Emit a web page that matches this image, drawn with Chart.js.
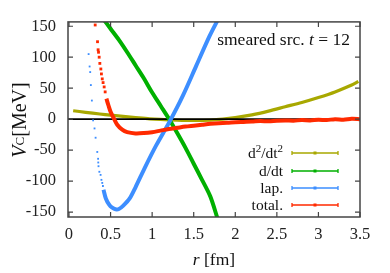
<!DOCTYPE html>
<html><head><meta charset="utf-8">
<script src="https://cdn.jsdelivr.net/npm/chart.js@4"></script>
<style>html,body{margin:0;padding:0;background:#fff}#wrap{width:390px;height:273px;position:relative}</style>
</head><body><div id="wrap"><canvas id="c" width="390" height="273"></canvas></div>
<script>
// ---- data ----
const xTicks = [0, 0.5, 1, 1.5, 2, 2.5, 3, 3.5];
const yTicks = [-150, -100, -50, 0, 50, 100, 150];
const seriesNames = [["d","2","/dt","2"], ["d/dt"], ["lap."], ["total."]];
const seriesColors = ["#a8a800", "#00b000", "#3d8eff", "#ff2a00"];

const d2dt2 = [[0.05,13.6],[0.2,11],[0.37,8.3],[0.5,6.5],[0.68,4],[0.8,2.5],[0.97,0.5],[1.1,-0.5],[1.3,-1.5],[1.5,-2],[1.7,-1.5],[1.85,0],[2.0,2.5],[2.2,7],[2.4,13],[2.6,20],[2.8,27],[3.0,35],[3.2,44],[3.4,55],[3.48,61]];
const ddt = [[0.40,164],[0.5,146],[0.6,128],[0.7,108],[0.8,87],[0.9,66],[1.0,43],[1.1,22],[1.2,1],[1.3,-22],[1.4,-46],[1.5,-72],[1.6,-98],[1.7,-125],[1.79,-162]];
const lapLine = [[0.415,-114],[0.443,-128],[0.483,-138],[0.52,-143],[0.56,-145.5],[0.6,-145],[0.65,-140],[0.73,-128],[0.8,-110],[0.91,-79],[1.05,-42],[1.21,-4],[1.37,38],[1.53,86],[1.69,134],[1.80,163]];
const lapDots = [[0.236,105],[0.248,85],[0.255,76],[0.263,55],[0.275,30],[0.29,-2],[0.307,-15],[0.32,-30],[0.34,-53],[0.35,-64],[0.352,-70],[0.355,-76],[0.365,-85],[0.38,-90],[0.39,-98],[0.40,-103],[0.408,-108]];
const totalLine = [[0.45,33],[0.475,22],[0.5,12],[0.54,1],[0.58,-9],[0.64,-17],[0.7,-21],[0.8,-23],[0.9,-22.5],[1.0,-21],[1.1,-18.5],[1.2,-16],[1.3,-14],[1.4,-12],[1.5,-10.5],[1.6,-9],[1.7,-7.5],[1.8,-6.5],[1.9,-6],[2.0,-5],[2.1,-4.5],[2.2,-4],[2.3,-3],[2.4,-3.5],[2.5,-2.5],[2.6,-2],[2.7,-2.5],[2.8,-1.5],[2.9,-2],[3.0,-1],[3.1,-1.5],[3.2,0],[3.3,-1],[3.4,0.5],[3.5,0]];
const totalDots = [[0.315,152],[0.343,125],[0.35,112],[0.355,108],[0.363,100],[0.371,90],[0.383,81],[0.39,73],[0.40,65],[0.41,59],[0.423,52],[0.435,44]];

const toXY = a => a.map(p => ({x:p[0], y:p[1]}));
const SERIF = "'Liberation Serif','DejaVu Serif',serif";

function lineDs(data, color, w, order){
  return {data: toXY(data), showLine:true, borderColor:color, backgroundColor:color,
    borderWidth:w, pointRadius:0, tension:0.3, order:order};
}
function dotDs(data, color, r, order){
  return {data: toXY(data), showLine:false, borderColor:color, backgroundColor:color,
    pointStyle:'rect', pointRadius:r, borderWidth:0, order:order};
}
function drawParts(ctx, parts, x, y){
  let cx = x;
  parts.forEach(p => { ctx.font = p[1]; ctx.fillText(p[0], cx, y + (p[2] || 0)); cx += ctx.measureText(p[0]).width; });
}
function partsWidth(ctx, parts){
  let w = 0; parts.forEach(p => { ctx.font = p[1]; w += ctx.measureText(p[0]).width; }); return w;
}

const deco = {
  id:'deco',
  afterDatasetDraw(chart, args){
    if(args.index !== 0) return;
    const {ctx, chartArea:a, scales:{y}} = chart;
    const py = y.getPixelForValue(0);
    ctx.save();
    ctx.strokeStyle = '#000'; ctx.lineWidth = 1.6;
    ctx.beginPath(); ctx.moveTo(a.left, py); ctx.lineTo(a.right, py); ctx.stroke();
    ctx.restore();
  },
  afterDraw(chart){
    const {ctx, chartArea:a, scales:{x, y}} = chart;
    ctx.save();
    // frame
    ctx.strokeStyle = '#444'; ctx.lineWidth = 1.5;
    ctx.strokeRect(a.left, a.top, a.right - a.left, a.bottom - a.top);
    // inward ticks
    ctx.lineWidth = 1.2;
    const tl = 5;
    ctx.beginPath();
    xTicks.forEach(v => {
      const px = x.getPixelForValue(v);
      ctx.moveTo(px, a.bottom); ctx.lineTo(px, a.bottom - tl);
      ctx.moveTo(px, a.top); ctx.lineTo(px, a.top + tl);
    });
    yTicks.forEach(v => {
      const py = y.getPixelForValue(v);
      ctx.moveTo(a.left, py); ctx.lineTo(a.left + tl, py);
      ctx.moveTo(a.right, py); ctx.lineTo(a.right - tl, py);
    });
    ctx.stroke();

    ctx.fillStyle = '#111';
    ctx.textBaseline = 'alphabetic';
    ctx.textAlign = 'left';
    // annotation
    {
      const f1 = "17.5px " + SERIF, fi = "italic 17.5px " + SERIF;
      const parts = [["smeared src. ", f1], ["t", fi], [" = 12", f1]];
      drawParts(ctx, parts, 350 - partsWidth(ctx, parts), 45);
    }
    // x title
    {
      const parts = [["r", "italic 17.5px " + SERIF], [" [fm]", "17.5px " + SERIF]];
      drawParts(ctx, parts, (a.left + a.right) / 2 - partsWidth(ctx, parts) / 2, 265);
    }
    // y title
    {
      const parts = [["V", "italic 20px " + SERIF, 0], ["C", "13px " + SERIF, -2], ["[MeV]", "20px " + SERIF, 0]];
      const w = partsWidth(ctx, parts);
      ctx.translate(26, 120);
      ctx.rotate(-Math.PI / 2);
      drawParts(ctx, parts, -w / 2, 0);
      ctx.setTransform(1, 0, 0, 1, 0, 0);
    }
    // legend
    const rows = [153, 171, 188, 205];
    seriesNames.forEach((n, i) => {
      const yy = rows[i];
      ctx.fillStyle = '#111';
      const parts = n.length > 1
        ? [[n[0], "15.5px " + SERIF], [n[1], "11px " + SERIF, -6], [n[2], "15.5px " + SERIF], [n[3], "11px " + SERIF, -6]]
        : [[n[0], "15.5px " + SERIF]];
      drawParts(ctx, parts, 283 - partsWidth(ctx, parts), yy + 5);
      ctx.strokeStyle = seriesColors[i]; ctx.fillStyle = seriesColors[i];
      ctx.lineWidth = 1.3;
      ctx.beginPath();
      ctx.moveTo(292, yy); ctx.lineTo(338, yy);
      ctx.moveTo(292, yy - 2); ctx.lineTo(292, yy + 2);
      ctx.moveTo(338, yy - 2); ctx.lineTo(338, yy + 2);
      ctx.stroke();
      ctx.fillRect(313.5, yy - 1.5, 3, 3);
    });
    ctx.restore();
  }
};

new Chart(document.getElementById('c'), {
  type:'scatter',
  data:{datasets:[
    lineDs(d2dt2, seriesColors[0], 3.2, 4),
    lineDs(ddt, seriesColors[1], 4, 3),
    lineDs(lapLine, seriesColors[2], 4, 2),
    lineDs(totalLine, seriesColors[3], 4, 1),
    dotDs(lapDots, seriesColors[2], 1.3, 2),
    dotDs(totalDots, seriesColors[3], 2, 1)
  ]},
  options:{
    responsive:false, animation:false, devicePixelRatio:1,
    layout:{padding:{left:0, right:30, top:20, bottom:0}},
    plugins:{legend:{display:false}, tooltip:{enabled:false}},
    scales:{
      x:{type:'linear', min:-0.012, max:3.5,
        afterBuildTicks:s => { s.ticks = xTicks.map(v => ({value:v})); },
        afterFit:s => { s.height = 56; },
        grid:{display:false, drawTicks:false}, border:{display:false},
        ticks:{padding:8, color:'#222', font:{family:SERIF, size:16.5}, maxRotation:0, autoSkip:false,
          callback:v => String(v)}},
      y:{type:'linear', min:-158, max:157,
        afterBuildTicks:s => { s.ticks = yTicks.map(v => ({value:v})); },
        afterFit:s => { s.width = 68; },
        grid:{display:false, drawTicks:false}, border:{display:false},
        ticks:{padding:12, color:'#222', font:{family:SERIF, size:16.5}, autoSkip:false,
          callback:v => String(v)}}
    }
  },
  plugins:[deco]
});
</script></body></html>
